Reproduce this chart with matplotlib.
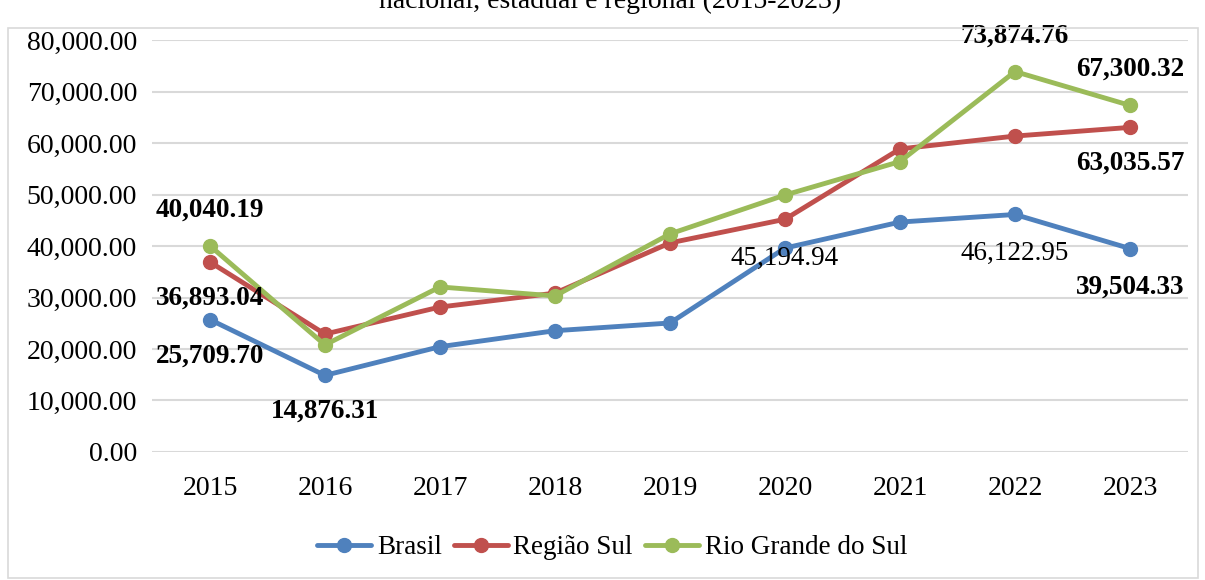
import matplotlib
matplotlib.use("Agg")
import matplotlib.pyplot as plt
from matplotlib.patches import Rectangle

years = ["2015", "2016", "2017", "2018", "2019", "2020", "2021", "2022", "2023"]
brasil = [25709.70, 14876.31, 20450, 23550, 25050, 39600, 44650, 46122.95, 39504.33]
regiao_sul = [36893.04, 22900, 28150, 30850, 40600, 45194.94, 58850, 61350, 63035.57]
rio_grande = [40040.19, 20800, 32050, 30300, 42350, 49900, 56400, 73874.76, 67300.32]
yticks = [0, 10000, 20000, 30000, 40000, 50000, 60000, 70000, 80000]

# rótulos de dados: (série, índice, deslocamento vertical em px, negrito)
label_points = [
    ("rs", 0, 36, True),
    ("sul", 0, -36, True),
    ("br", 0, -37, True),
    ("br", 1, -36, True),
    ("sul", 5, -39, False),
    ("br", 7, -39, False),
    ("br", 8, -39, True),
    ("rs", 7, 35, True),
    ("rs", 8, 36, True),
    ("sul", 8, -36, True),
]

plt.rcParams['font.family'] = ['Liberation Serif', 'DejaVu Serif']

fig = plt.figure(figsize=(12.05, 5.8), dpi=100)
ax = fig.add_axes([0.1265, 0.2207, 0.859, 0.7103])

# moldura do gráfico
fig.patches.append(Rectangle((8 / 1205, 0.003), 1190 / 1205, 1 - 28 / 580 - 0.003,
                             transform=fig.transFigure, fill=False,
                             edgecolor="#d9d9d9", lw=1.2))

# título cortado no topo, como na figura original
fig.text(0.506, 1 - 8 / 580, "nacional, estadual e regional (2015-2023)",
         ha="center", va="baseline", fontsize=20)

x = list(range(len(years)))
series = {
    "br": (brasil, "Brasil", "#4f81bd"),
    "sul": (regiao_sul, "Região Sul", "#c0504d"),
    "rs": (rio_grande, "Rio Grande do Sul", "#9bbb59"),
}
for key in ["br", "sul", "rs"]:
    vals, name, color = series[key]
    ax.plot(x, vals, color=color, lw=3.5, marker="o", markersize=10,
            label=name, solid_capstyle="round", zorder=3)

for key, i, dy, bold in label_points:
    vals = series[key][0]
    ax.annotate(f"{vals[i]:,.2f}", (i, vals[i]), xytext=(0, dy),
                textcoords="offset pixels", ha="center", va="center",
                fontsize=19.5, fontweight="bold" if bold else "normal",
                color="black", zorder=4)

ax.set_xlim(-0.5, 8.5)
ax.set_ylim(0, 80000)
ax.set_xticks(x)
ax.set_xticklabels(years)
ax.set_yticks(yticks)
ax.set_yticklabels([f"{v:,.2f}" for v in yticks])
ax.tick_params(axis="both", length=0, labelsize=20, colors="#000000")
ax.tick_params(axis="x", pad=17)
ax.tick_params(axis="y", pad=11)
ax.grid(axis="y", color="#d9d9d9", lw=1.5)
ax.set_axisbelow(True)
for s in ax.spines.values():
    s.set_visible(False)

fig.legend(loc="center", bbox_to_anchor=(0.508, 1 - 548 / 580), ncol=3,
           frameon=False, fontsize=19.5, handlelength=2.0, handletextpad=0.2,
           columnspacing=0.45)

fig.savefig("out.png", dpi=100)
